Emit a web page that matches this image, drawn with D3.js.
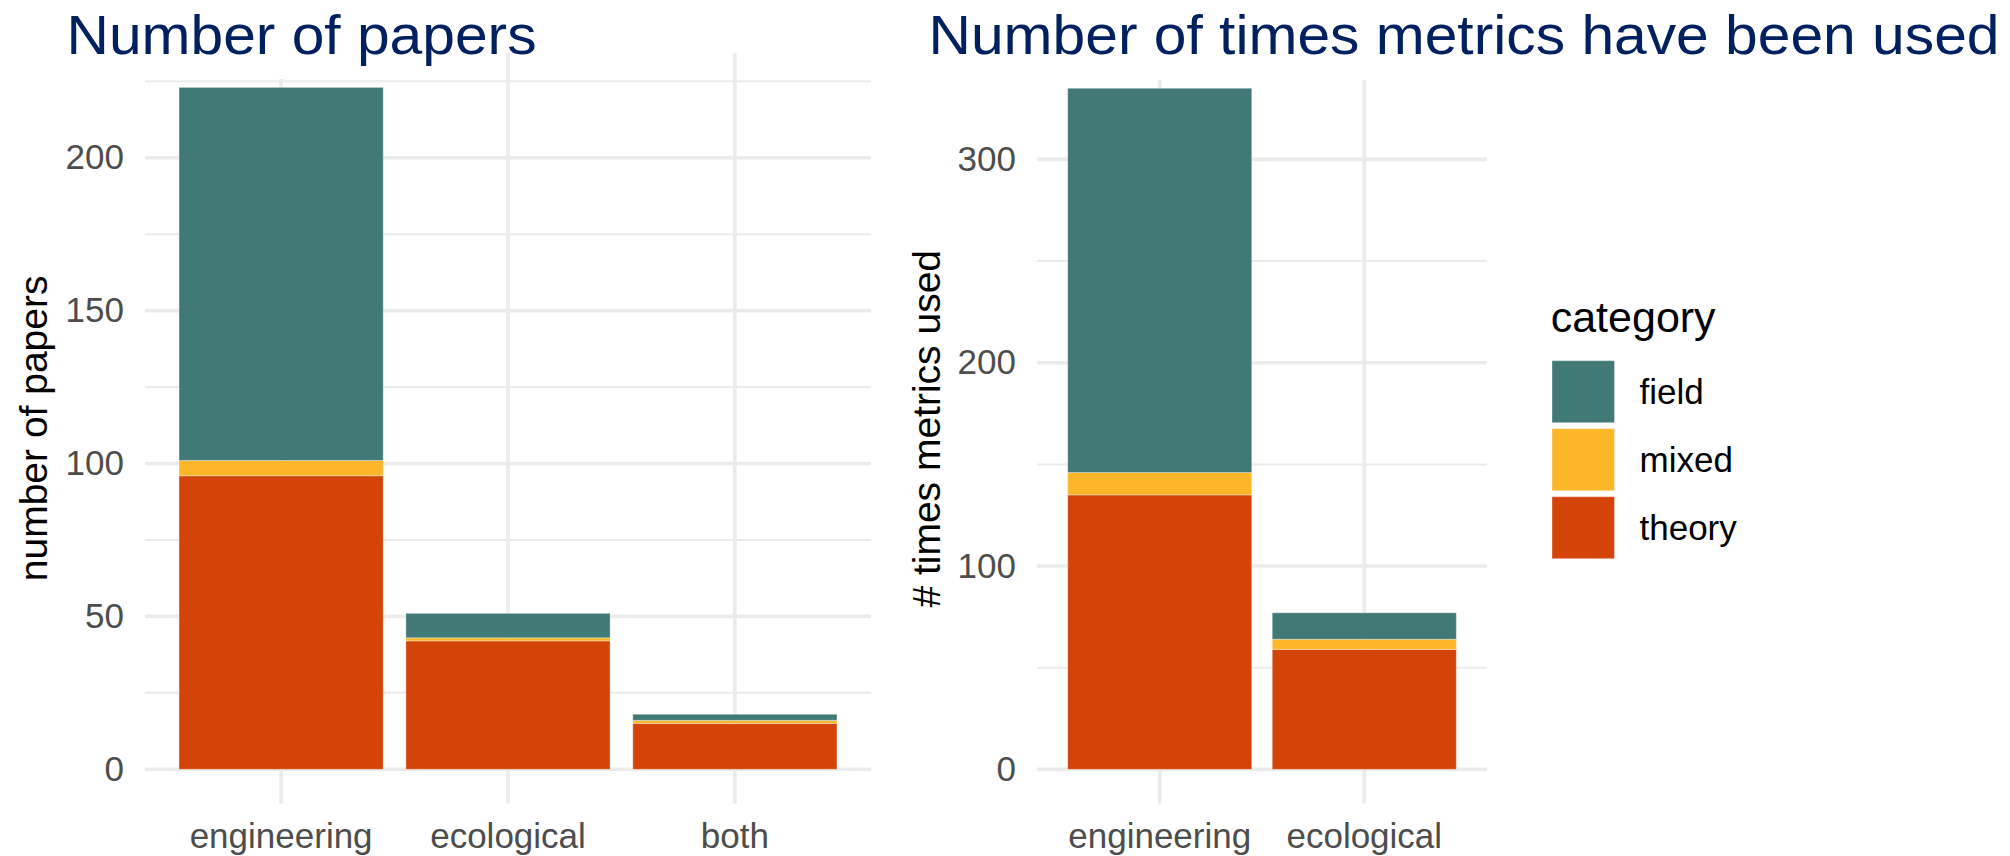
<!DOCTYPE html>
<html>
<head>
<meta charset="utf-8">
<script src="https://cdn.jsdelivr.net/npm/d3@7"></script>
<style>
  html, body { margin: 0; padding: 0; background: #fff; }
  svg { display: block; }
</style>
</head>
<body>
<svg id="chart" width="2010" height="856"></svg>
<script>
// ---------- data ----------
const papersCategories = ["engineering", "ecological", "both"];
const papersTheory = [96, 42, 15];
const papersMixed  = [5, 1, 1];
const papersField  = [122, 8, 2];
const papersTicks  = [0, 50, 100, 150, 200];
const papersMinor  = [25, 75, 125, 175, 225];

const metricsCategories = ["engineering", "ecological"];
const metricsTheory = [135, 59];
const metricsMixed  = [11, 5];
const metricsField  = [189, 13];
const metricsTicks  = [0, 100, 200, 300];
const metricsMinor  = [50, 150, 250, 350];

const seriesKeys   = ["theory", "mixed", "field"];   // stacking order (bottom -> top)
const legendKeys   = ["field", "mixed", "theory"];   // legend order
const seriesColors = { field: "#417976", mixed: "#fdb627", theory: "#d44408" };

const titleLeft  = "Number of papers";
const titleRight = "Number of times metrics have been used";
const yTitleLeft  = "number of papers";
const yTitleRight = "# times metrics used";
const legendTitle = "category";

// ---------- drawing ----------
const svg = d3.select("#chart");
const TICK_FONT = "'Liberation Sans', Arial, sans-serif";

function buildRows(cats, theory, mixed, field) {
  return cats.map((c, i) => ({ cat: c, theory: theory[i], mixed: mixed[i], field: field[i] }));
}

function drawPanel(opts) {
  const { rows, cats, ticks, minor, left, right, top, bottom, yTitle, yTitleX, gridTop } = opts;
  const total = d3.max(rows, r => r.theory + r.mixed + r.field);
  const pad = total * 0.05;

  const x = d3.scaleBand().domain(cats).range([left, right]).paddingInner(0.1).paddingOuter(0.15);
  const y = d3.scaleLinear().domain([-pad, total + pad]).range([bottom, top]);

  const g = svg.append("g");

  // minor gridlines
  g.append("g").selectAll("line").data(minor.filter(v => v <= total + pad)).join("line")
    .attr("x1", left).attr("x2", right)
    .attr("y1", d => y(d)).attr("y2", d => y(d))
    .attr("stroke", "#ebebeb").attr("stroke-width", 2);
  // major gridlines
  g.append("g").selectAll("line").data(ticks).join("line")
    .attr("x1", left).attr("x2", right)
    .attr("y1", d => y(d)).attr("y2", d => y(d))
    .attr("stroke", "#ebebeb").attr("stroke-width", 3.6);
  // vertical gridlines
  g.append("g").selectAll("line").data(cats).join("line")
    .attr("x1", d => x(d) + x.bandwidth() / 2).attr("x2", d => x(d) + x.bandwidth() / 2)
    .attr("y1", gridTop).attr("y2", bottom)
    .attr("stroke", "#ebebeb").attr("stroke-width", 3.6);

  // stacked bars
  const stack = d3.stack().keys(seriesKeys)(rows);
  g.append("g").selectAll("g").data(stack).join("g")
    .attr("fill", d => seriesColors[d.key])
    .selectAll("rect").data(d => d).join("rect")
    .attr("x", d => x(d.data.cat))
    .attr("width", x.bandwidth())
    .attr("y", d => y(d[1]))
    .attr("height", d => y(d[0]) - y(d[1]))
    .attr("stroke", "rgba(255,255,255,0.35)")
    .attr("stroke-width", 1);

  // y axis labels
  const yAxis = d3.axisLeft(y).tickValues(ticks).tickSize(0).tickPadding(21);
  const ya = g.append("g").attr("transform", `translate(${left},0)`).call(yAxis);
  ya.select(".domain").remove();
  ya.selectAll("text").attr("font-family", TICK_FONT).attr("font-size", 35).attr("fill", "#4d4d4d");

  // x axis labels
  const xAxis = d3.axisBottom(x).tickSize(0).tickPadding(0);
  const xa = g.append("g").attr("transform", `translate(0,${bottom})`).call(xAxis);
  xa.select(".domain").remove();
  xa.selectAll("text").attr("font-family", TICK_FONT).attr("font-size", 35).attr("fill", "#4d4d4d")
    .attr("y", 45).attr("dy", 0);

  // y title
  g.append("text")
    .attr("transform", `translate(${yTitleX},${(top + bottom) / 2}) rotate(-90)`)
    .attr("text-anchor", "middle")
    .attr("font-family", TICK_FONT).attr("font-size", 39).attr("fill", "#000")
    .text(yTitle);
}

drawPanel({
  rows: buildRows(papersCategories, papersTheory, papersMixed, papersField),
  cats: papersCategories, ticks: papersTicks, minor: papersMinor,
  left: 145, right: 871, top: 53.3, bottom: 803.4,
  yTitle: yTitleLeft, yTitleX: 47, gridTop: 53.3
});

drawPanel({
  rows: buildRows(metricsCategories, metricsTheory, metricsMixed, metricsField),
  cats: metricsCategories, ticks: metricsTicks, minor: metricsMinor,
  left: 1037, right: 1487, top: 54.2, bottom: 803.4,
  yTitle: yTitleRight, yTitleX: 940, gridTop: 54.2
});

// white title boxes (cover top of the plots as in the source slide)
svg.append("rect").attr("x", 60).attr("y", 0).attr("width", 420).attr("height", 79).attr("fill", "#fff");
svg.append("rect").attr("x", 920).attr("y", 0).attr("width", 1090).attr("height", 80).attr("fill", "#fff");

// titles
const TITLE_FONT = "'Liberation Sans', Arial, sans-serif";
svg.append("text").attr("x", 66.5).attr("y", 53.5)
  .attr("font-family", TITLE_FONT).attr("font-size", 56).attr("fill", "#002060")
  .attr("textLength", 470).attr("lengthAdjust", "spacingAndGlyphs")
  .text(titleLeft);
svg.append("text").attr("x", 928.5).attr("y", 53.5)
  .attr("font-family", TITLE_FONT).attr("font-size", 56).attr("fill", "#002060")
  .attr("textLength", 1071).attr("lengthAdjust", "spacingAndGlyphs")
  .text(titleRight);

// legend
const lg = svg.append("g");
lg.append("text").attr("x", 1550.7).attr("y", 331.7)
  .attr("font-family", TICK_FONT).attr("font-size", 43).attr("fill", "#000")
  .text(legendTitle);
const ly = d3.scaleBand().domain(legendKeys).range([360.7, 564.7]).padding(0);
lg.selectAll("rect").data(legendKeys).join("rect")
  .attr("x", 1552).attr("y", d => ly(d))
  .attr("width", 62.5).attr("height", ly.bandwidth() - 6)
  .attr("fill", d => seriesColors[d])
  .attr("stroke", "rgba(255,255,255,0.35)").attr("stroke-width", 1);
lg.selectAll("text.lab").data(legendKeys).join("text").attr("class", "lab")
  .attr("x", 1639.5).attr("y", d => ly(d) + (ly.bandwidth() - 6) / 2 + 11.8)
  .attr("font-family", TICK_FONT).attr("font-size", 35).attr("fill", "#000")
  .text(d => d);
</script>
</body>
</html>
